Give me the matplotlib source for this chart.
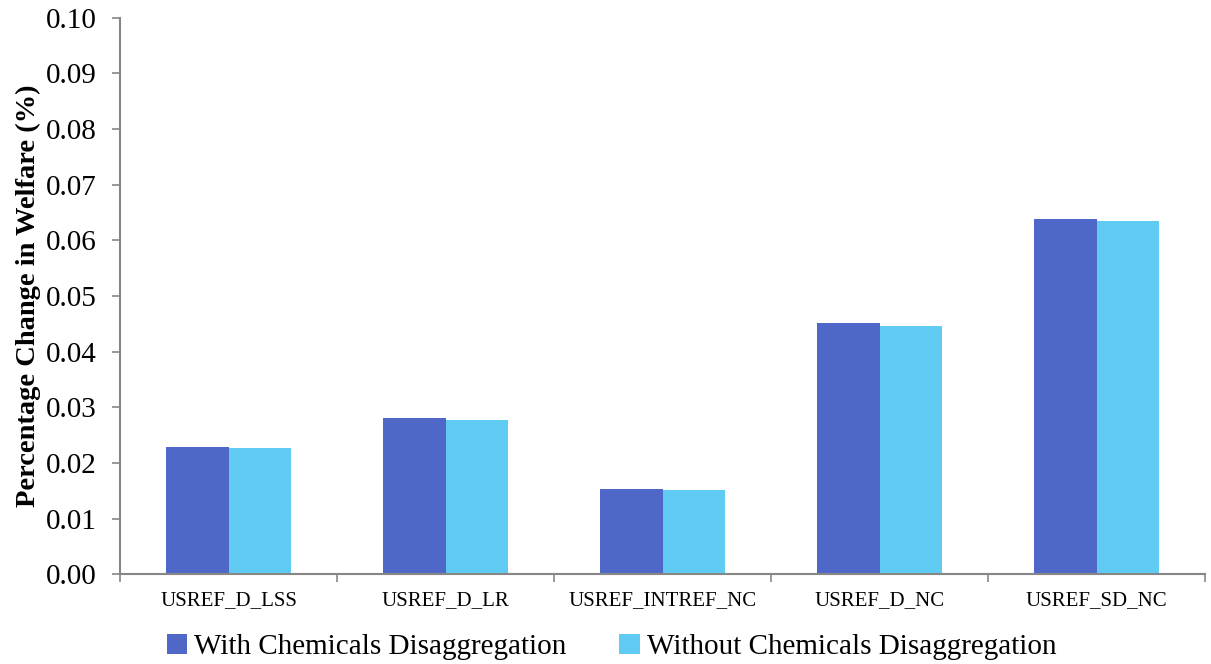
import numpy as np
import matplotlib.pyplot as plt
from matplotlib.ticker import FixedLocator, FormatStrFormatter

scenarios = ['USREF_D_LSS', 'USREF_D_LR', 'USREF_INTREF_NC', 'USREF_D_NC', 'USREF_SD_NC']
with_chem = [0.0229, 0.0281, 0.0153, 0.0451, 0.0639]
without_chem = [0.0227, 0.0278, 0.0151, 0.0446, 0.0634]
series_names = ['With Chemicals Disaggregation', 'Without Chemicals Disaggregation']

plt.rcParams['font.family'] = ['Liberation Serif', 'DejaVu Serif']

fig = plt.figure(figsize=(12.11, 6.64), dpi=100)
ax = fig.add_axes([0.0991, 0.135, 0.896, 0.8386])

x = np.arange(len(scenarios))
w = 0.288
ax.bar(x - w / 2, with_chem, w, color='#4F67C7', label=series_names[0])
ax.bar(x + w / 2, without_chem, w, color='#5FCBF2', label=series_names[1])

ax.set_xlim(-0.5, len(scenarios) - 0.5)
ax.set_ylim(0, 0.10)
ax.set_yticks(np.arange(0, 0.1001, 0.01))
ax.yaxis.set_major_formatter(FormatStrFormatter('%.2f'))

ax.set_xticks(x)
ax.set_xticklabels(scenarios, fontsize=15)
ax.xaxis.set_minor_locator(FixedLocator(np.arange(-0.5, len(scenarios), 1.0)))
ax.tick_params(axis='x', which='major', length=0, pad=12)
ax.tick_params(axis='x', which='minor', length=6, color='#868686', width=1.2)
ax.tick_params(axis='y', length=6, color='#868686', width=1.2, labelsize=21, pad=11)

for s in ['top', 'right']:
    ax.spines[s].set_visible(False)
for s in ['left', 'bottom']:
    ax.spines[s].set_color('#868686')
    ax.spines[s].set_linewidth(1.5)

ax.set_ylabel('Percentage Change in Welfare (%)', fontsize=20.5, fontweight='bold', labelpad=3)

ax.legend(loc='center', bbox_to_anchor=(0.453, -0.13), ncol=2, frameon=False,
          fontsize=21, handlelength=0.7, handleheight=0.7, handletextpad=0.25,
          columnspacing=1.8)

fig.savefig('out.png', dpi=100)
